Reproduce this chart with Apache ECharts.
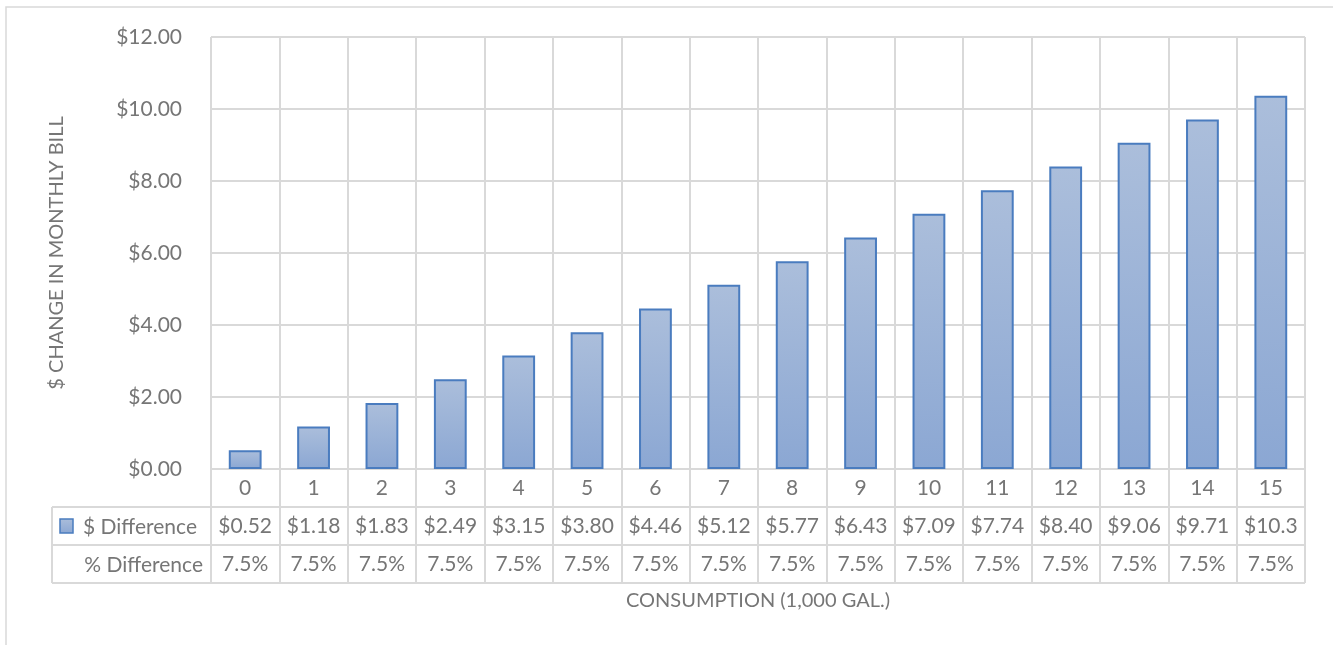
<!DOCTYPE html>
<html>
<head>
<meta charset="utf-8">
<script src="https://cdn.jsdelivr.net/npm/echarts@6/dist/echarts.min.js"></script>
<style>
html,body{margin:0;padding:0;background:#fff;}
#chart{width:1333px;height:645px;}
</style>
</head>
<body>
<div id="chart"></div>
<script>
var categories = ['0','1','2','3','4','5','6','7','8','9','10','11','12','13','14','15'];
var dollarDiff = [0.52,1.18,1.83,2.49,3.15,3.80,4.46,5.12,5.77,6.43,7.09,7.74,8.40,9.06,9.71,10.37];
var pctDiff = [7.5,7.5,7.5,7.5,7.5,7.5,7.5,7.5,7.5,7.5,7.5,7.5,7.5,7.5,7.5,7.5];
var seriesNames = ['$ Difference','% Difference'];
var yTicks = {min:0, max:12, interval:2};
var xTitle = 'CONSUMPTION (1,000 GAL.)';
var yTitle = '$ CHANGE IN MONTHLY BILL';

var FONT = 'Lato';
var FS = 21;
var TXT = '#767676';
var GRIDC = '#d9d9d9';
var chart = echarts.init(document.getElementById('chart'), null, {renderer:'canvas'});

var barFill = new echarts.graphic.LinearGradient(0,0,0,1,[
  {offset:0,color:'#abbedb'},{offset:1,color:'#8ba7d3'}]);

var G = {left:211, right:28, top:37, bottom:176};

var option = {
  animation:false,
  backgroundColor:'#fff',
  grid:{left:G.left,right:G.right,top:G.top,bottom:G.bottom,containLabel:false},
  xAxis:{
    type:'category',
    data:categories,
    name:xTitle,
    nameLocation:'middle',
    nameGap:122,
    nameTextStyle:{fontFamily:FONT,fontSize:20,color:TXT},
    axisLine:{show:true,lineStyle:{color:GRIDC,width:2}},
    axisTick:{show:true,interval:0,length:114,inside:false,lineStyle:{color:GRIDC,width:2}},
    splitLine:{show:true,interval:0,lineStyle:{color:GRIDC,width:2}},
    axisLabel:{
      interval:0,
      margin:0,
      width:64,
      overflow:'truncate',
      ellipsis:'',
      formatter:function(v,i){
        return '{a|'+v+'}\n{b|$'+dollarDiff[i].toFixed(2)+'}\n{c|'+pctDiff[i].toFixed(1)+'%}';
      },
      rich:{
        a:{fontFamily:FONT,fontSize:FS,color:TXT,lineHeight:38,height:38},
        b:{fontFamily:FONT,fontSize:FS,color:TXT,lineHeight:38,height:38},
        c:{fontFamily:FONT,fontSize:FS,color:TXT,lineHeight:38,height:38}
      }
    }
  },
  yAxis:{
    type:'value',
    min:yTicks.min,max:yTicks.max,interval:yTicks.interval,
    name:yTitle,
    nameLocation:'middle',
    nameRotate:90,
    nameGap:144,
    nameTextStyle:{fontFamily:FONT,fontSize:20,color:TXT},
    axisLine:{show:false},
    axisTick:{show:false},
    splitLine:{show:true,lineStyle:{color:GRIDC,width:2}},
    axisLabel:{margin:29,fontFamily:FONT,fontSize:FS,color:TXT,
      formatter:function(v){return '$'+v.toFixed(2);}}
  },
  series:[{
    name:seriesNames[0],
    type:'bar',
    data:dollarDiff,
    barWidth:'48%',
    itemStyle:{color:barFill,borderColor:'#4a7cbf',borderWidth:2},
    z:3
  }],
  graphic:[]
};
chart.setOption(option);

var y0 = chart.convertToPixel({yAxisIndex:0}, 0);
var plotRight = 1333 - G.right;
var row1 = y0 + 38, row2 = y0 + 76, row3 = y0 + 114;
var tableLeft = 52;
var gfx = [
  {type:'rect',shape:{x:6,y:7,width:1400,height:700},style:{fill:null,stroke:GRIDC,lineWidth:1.5},silent:true,z:0},
  {type:'line',shape:{x1:tableLeft,y1:row1,x2:plotRight,y2:row1},style:{stroke:GRIDC,lineWidth:2},z:1},
  {type:'line',shape:{x1:tableLeft,y1:row2,x2:plotRight,y2:row2},style:{stroke:GRIDC,lineWidth:2},z:1},
  {type:'line',shape:{x1:tableLeft,y1:row3,x2:plotRight,y2:row3},style:{stroke:GRIDC,lineWidth:2},z:1},
  {type:'line',shape:{x1:tableLeft,y1:row1,x2:tableLeft,y2:row3},style:{stroke:GRIDC,lineWidth:2},z:1},
  {type:'rect',shape:{x:60,y:row1+12,width:13,height:14},style:{fill:barFill,stroke:'#4a7cbf',lineWidth:1.5},z:2},
  {type:'text',style:{text:seriesNames[0],x:197,y:row1+20,align:'right',verticalAlign:'middle',fontFamily:FONT,fontSize:FS,fill:TXT},z:2},
  {type:'text',style:{text:seriesNames[1],x:203,y:row2+20,align:'right',verticalAlign:'middle',fontFamily:FONT,fontSize:FS,fill:TXT},z:2}
];
chart.setOption({graphic:gfx});
</script>
</body>
</html>
